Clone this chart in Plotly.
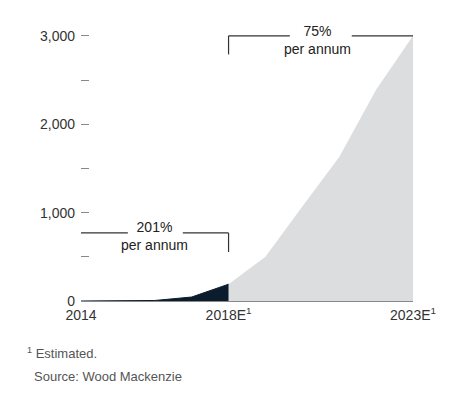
import plotly.graph_objects as go

# Data
hist_years = [2014, 2015, 2016, 2017, 2018]
hist_values = [0, 2, 6, 45, 190]
fcst_years = [2018, 2019, 2020, 2021, 2022, 2023]
fcst_values = [190, 500, 1070, 1630, 2390, 3000]

y_tickvals = [0, 500, 1000, 1500, 2000, 2500, 3000]
y_ticktext = ["0", "", "1,000", "", "2,000", "", "3,000"]
x_tickvals = [2014, 2018, 2023]
x_ticktext = ["2014", "2018E<sup>1</sup>", "2023E<sup>1</sup>"]

hist_label = "201%<br>per annum"
fcst_label = "75%<br>per annum"

FONT = "Liberation Sans, Arial, sans-serif"
DARK = "#0b1c2c"
LIGHT = "#dcdddf"
TXT = "#222222"

fig = go.Figure()
fig.add_trace(go.Scatter(x=fcst_years, y=fcst_values, mode="lines", fill="tozeroy",
                         fillcolor=LIGHT, line=dict(width=0, color=LIGHT), hoverinfo="skip"))
fig.add_trace(go.Scatter(x=hist_years, y=hist_values, mode="lines", fill="tozeroy",
                         fillcolor=DARK, line=dict(width=1, color=DARK), hoverinfo="skip"))

# Brackets
lc = dict(color="#333333", width=1.2)
def seg(x0, y0, x1, y1):
    fig.add_shape(type="line", xref="x", yref="y", x0=x0, y0=y0, x1=x1, y1=y1, line=lc)

seg(2014, 770, 2015.27, 770)
seg(2016.76, 770, 2018, 770)
seg(2018, 770, 2018, 555)
seg(2018, 3000, 2019.66, 3000)
seg(2021.34, 3000, 2023, 3000)
seg(2018, 3000, 2018, 2790)

fig.add_annotation(x=2016.0, y=730, xref="x", yref="y", text=hist_label, showarrow=False,
                   font=dict(family=FONT, size=14, color=TXT))
fig.add_annotation(x=2020.42, y=2950, xref="x", yref="y", text=fcst_label, showarrow=False,
                   font=dict(family=FONT, size=14, color=TXT))

fig.add_annotation(x=-0.168, y=-0.19, xref="paper", yref="paper", xanchor="left", yanchor="middle",
                   text="<sup>1</sup> Estimated.", showarrow=False,
                   font=dict(family=FONT, size=13, color="#555555"))
fig.add_annotation(x=-0.148, y=-0.274, xref="paper", yref="paper", xanchor="left", yanchor="middle",
                   text="Source: Wood Mackenzie", showarrow=False,
                   font=dict(family=FONT, size=13, color="#555555"))

fig.update_layout(
    width=466, height=405,
    margin=dict(l=73, r=61, t=19, b=112),
    paper_bgcolor="white", plot_bgcolor="white",
    showlegend=False,
    font=dict(family=FONT, size=14, color=TXT),
    xaxis=dict(range=[2014, 2023], tickvals=x_tickvals, ticktext=x_ticktext,
               showgrid=False, zeroline=False, showline=True, linecolor="#888888", linewidth=1,
               ticks="", ticklabelstandoff=1,
               tickfont=dict(family=FONT, size=14, color="#333333")),
    yaxis=dict(range=[0, 3100], tickvals=y_tickvals, ticktext=y_ticktext,
               showgrid=False, zeroline=False, showline=False,
               ticks="inside", ticklen=8, tickcolor="#888888", tickwidth=1,
               ticklabelstandoff=5,
               tickfont=dict(family=FONT, size=14, color="#333333")),
)

fig.write_html("out.html")
